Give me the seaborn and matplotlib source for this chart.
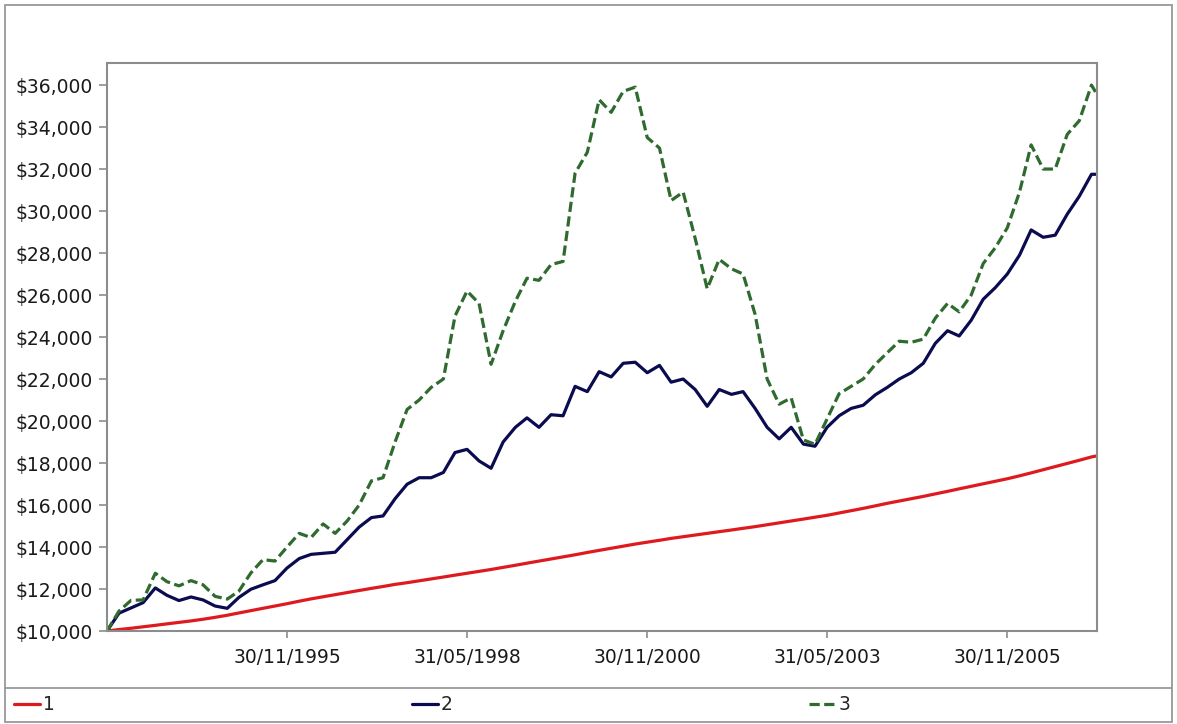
import numpy as np
import pandas as pd
import matplotlib
matplotlib.use('Agg')
import matplotlib.pyplot as plt
import matplotlib.dates as mdates
from matplotlib.ticker import FuncFormatter, FixedLocator
from matplotlib.lines import Line2D
from matplotlib.patches import Rectangle
import seaborn as sns

# ===================== DATOS =====================
# fin de mes, cada 2 meses desde 31/05/1993, y el último punto 28/02/2007
inicio = pd.Timestamp('1993-05-31')
fechas = [inicio + pd.offsets.MonthEnd(i) for i in range(0, 165, 2)] + [pd.Timestamp('2007-02-28')]

serie_1 = [10000, 10070, 10130, 10200, 10270, 10340, 10410, 10480, 10560, 10650,
           10750, 10860, 10970, 11080, 11190, 11300, 11420, 11530, 11630, 11730,
           11830, 11930, 12030, 12120, 12220, 12300, 12390, 12480, 12570, 12660,
           12750, 12840, 12930, 13030, 13130, 13230, 13330, 13430, 13530, 13630,
           13740, 13840, 13940, 14040, 14140, 14230, 14320, 14410, 14490, 14570,
           14650, 14730, 14810, 14890, 14970, 15060, 15150, 15240, 15330, 15420,
           15510, 15620, 15730, 15840, 15960, 16080, 16190, 16300, 16410, 16530,
           16650, 16770, 16890, 17010, 17130, 17250, 17390, 17530, 17680, 17830,
           17980, 18130, 18290, 18340]

serie_2 = [10000, 10850, 11100, 11350, 12050, 11700, 11450, 11620, 11480, 11190,
           11080, 11600, 11990, 12200, 12400, 13000, 13450, 13650, 13700, 13750,
           14350, 14950, 15400, 15480, 16300, 16990, 17300, 17300, 17550, 18500,
           18650, 18100, 17750, 19000, 19700, 20150, 19700, 20300, 20250, 21650,
           21400, 22350, 22100, 22750, 22800, 22300, 22650, 21850, 22000, 21500,
           20700, 21500, 21270, 21400, 20600, 19700, 19150, 19700, 18900, 18800,
           19700, 20250, 20600, 20750, 21250, 21600, 22000, 22300, 22750, 23700,
           24300, 24050, 24800, 25800, 26350, 27000, 27900, 29100, 28750, 28850,
           29850, 30700, 31750, 31750]

serie_3 = [10000, 10950, 11460, 11480, 12750, 12350, 12150, 12400, 12200, 11650,
           11520, 11900, 12770, 13400, 13330, 14000, 14650, 14450, 15100, 14650,
           15240, 16000, 17150, 17300, 19000, 20550, 21000, 21600, 22000, 25000,
           26190, 25600, 22700, 24300, 25700, 26800, 26700, 27450, 27600, 31800,
           32800, 35300, 34700, 35700, 35900, 33500, 33000, 30500, 30900, 28700,
           26300, 27700, 27250, 27000, 25080, 22000, 20800, 21100, 19100, 18890,
           20100, 21300, 21650, 22000, 22700, 23250, 23800, 23750, 23900, 24900,
           25600, 25200, 26000, 27500, 28250, 29200, 30900, 33150, 32000, 32000,
           33650, 34300, 36000, 35550]

etiquetas = ['1', '2', '3']
colores = ['#de1a1e', '#0b0b4f', '#2f6a2f']

fechas_ticks = pd.to_datetime(['1995-11-30', '1998-05-31', '2000-11-30',
                               '2003-05-31', '2005-11-30'])
y_ticks = list(range(10000, 36001, 2000))

# ===================== ESTILO =====================
sns.set_style('ticks')
plt.rcParams['font.family'] = ['DejaVu Sans']
plt.rcParams['font.size'] = 13.5

W, H = 1177, 724
fig = plt.figure(figsize=(W / 100, H / 100), dpi=100, facecolor='white')
ax = fig.add_axes([107 / W, (H - 631) / H, 990 / W, (631 - 63) / H])

# ===================== LINEAS =====================
sns.lineplot(x=fechas, y=serie_1, ax=ax, color=colores[0], linewidth=2.3, label=etiquetas[0])
sns.lineplot(x=fechas, y=serie_2, ax=ax, color=colores[1], linewidth=2.3, label=etiquetas[1])
sns.lineplot(x=fechas, y=serie_3, ax=ax, color=colores[2], linewidth=2.3,
             linestyle=(0, (3.2, 1.4)), label=etiquetas[2])

ax.set_xlim(fechas[0], fechas[-1])
ax.set_ylim(10000, 37050)
ax.xaxis.set_major_locator(FixedLocator(mdates.date2num(fechas_ticks)))
ax.xaxis.set_major_formatter(mdates.DateFormatter('%d/%m/%Y'))
ax.yaxis.set_major_locator(FixedLocator(y_ticks))
ax.yaxis.set_major_formatter(FuncFormatter(lambda v, p: f'${v:,.0f}'))
ax.set_xlabel('')
ax.set_ylabel('')

for s in ax.spines.values():
    s.set_visible(True)
    s.set_color('#8c8c8c')
    s.set_linewidth(1.5)
ax.tick_params(axis='both', color='#8c8c8c', labelcolor='#1a1a1a', width=1.2,
               labelsize=13.5)
ax.tick_params(axis='y', length=6, pad=4)
ax.tick_params(axis='x', length=5, pad=7)

# ===================== LEYENDA Y MARCO =====================
handles, labels = ax.get_legend_handles_labels()
ax.legend_.remove()
fig.legend(handles, labels, loc='center', ncol=3, mode='expand', frameon=False,
           bbox_to_anchor=(14 / W, 2 / H, 836 / W, 34 / H),
           handlelength=1.4, handletextpad=0.15, borderpad=0, borderaxespad=0,
           fontsize=13.5)

fig.add_artist(Rectangle((5 / W, 2 / H), 1167 / W, 717 / H, transform=fig.transFigure,
                         fill=False, edgecolor='#999999', linewidth=1.3))
fig.add_artist(Line2D([5 / W, 1172 / W], [(H - 688) / H] * 2, transform=fig.transFigure,
                      color='#999999', linewidth=1.3))

fig.savefig('out.png', dpi=100, facecolor='white')
